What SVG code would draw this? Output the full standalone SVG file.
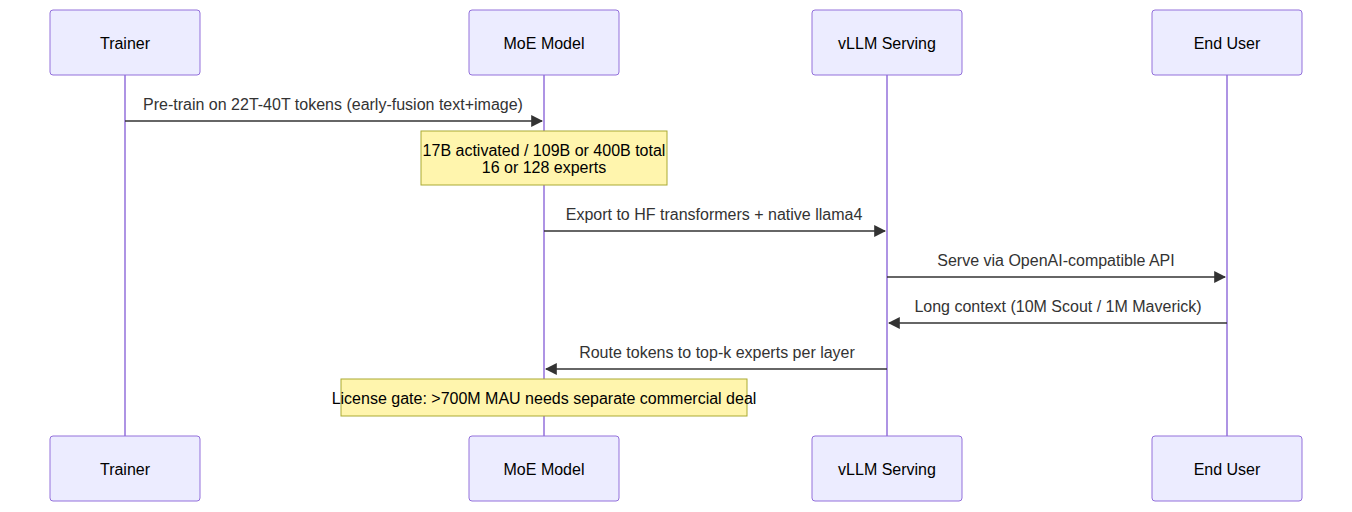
<svg xmlns="http://www.w3.org/2000/svg" width="1352" height="512" viewBox="0 0 1352 512">
<style>
.actor{fill:#ECECFF;stroke:#9370DB;stroke-width:1}
.life{stroke:#9370DB;stroke-width:1.5}
.at{font-family:"Liberation Sans",Arial,sans-serif;font-size:16px;fill:#000;text-anchor:middle;dominant-baseline:central}
.msg{stroke:#333;stroke-width:1.5;fill:none}
.mt{font-family:"Liberation Sans",Arial,sans-serif;font-size:16px;fill:#333;text-anchor:middle}
.note{fill:#fff5ad;stroke:#aaaa33;stroke-width:1}
.nt{font-family:"Liberation Sans",Arial,sans-serif;font-size:16px;fill:#000;text-anchor:middle}
</style>
<defs><marker id="ah" viewBox="0 0 10 10" refX="9" refY="5" markerWidth="8" markerHeight="8" orient="auto-start-reverse"><path d="M0,0 L10,5 L0,10 z" fill="#333"/></marker></defs>
<g id="lifelines">
<line class="life" x1="125" y1="75" x2="125" y2="436"/>
<line class="life" x1="544" y1="75" x2="544" y2="436"/>
<line class="life" x1="887" y1="75" x2="887" y2="436"/>
<line class="life" x1="1227" y1="75" x2="1227" y2="436"/>
</g>
<g id="trainer"><rect class="actor" x="50" y="10" width="150" height="65" rx="3"/><text class="at" x="125" y="43">Trainer</text><rect class="actor" x="50" y="436" width="150" height="65" rx="3"/><text class="at" x="125" y="469">Trainer</text></g>
<g id="moe"><rect class="actor" x="469" y="10" width="150" height="65" rx="3"/><text class="at" x="544" y="43">MoE Model</text><rect class="actor" x="469" y="436" width="150" height="65" rx="3"/><text class="at" x="544" y="469">MoE Model</text></g>
<g id="vllm"><rect class="actor" x="812" y="10" width="150" height="65" rx="3"/><text class="at" x="887" y="43">vLLM Serving</text><rect class="actor" x="812" y="436" width="150" height="65" rx="3"/><text class="at" x="887" y="469">vLLM Serving</text></g>
<g id="user"><rect class="actor" x="1152" y="10" width="150" height="65" rx="3"/><text class="at" x="1227" y="43">End User</text><rect class="actor" x="1152" y="436" width="150" height="65" rx="3"/><text class="at" x="1227" y="469">End User</text></g>
<g id="connectors">
<line class="msg" x1="125" y1="121" x2="542" y2="121" marker-end="url(#ah)"/>
<text class="mt" x="333" y="110">Pre-train on 22T-40T tokens (early-fusion text+image)</text>
<line class="msg" x1="544" y1="231" x2="885" y2="231" marker-end="url(#ah)"/>
<text class="mt" x="714" y="220">Export to HF transformers + native llama4</text>
<line class="msg" x1="887" y1="277" x2="1225" y2="277" marker-end="url(#ah)"/>
<text class="mt" x="1056" y="266">Serve via OpenAI-compatible API</text>
<line class="msg" x1="1227" y1="323" x2="889" y2="323" marker-end="url(#ah)"/>
<text class="mt" x="1058" y="312">Long context (10M Scout / 1M Maverick)</text>
<line class="msg" x1="887" y1="369" x2="546" y2="369" marker-end="url(#ah)"/>
<text class="mt" x="717" y="358">Route tokens to top-k experts per layer</text>
</g>
<g id="note1"><rect class="note" x="421" y="131" width="246" height="54"/><text class="nt" x="544" y="156">17B activated / 109B or 400B total</text><text class="nt" x="544" y="173">16 or 128 experts</text></g>
<g id="note2"><rect class="note" x="341" y="379" width="406" height="37"/><text class="nt" x="544" y="404">License gate: &gt;700M MAU needs separate commercial deal</text></g>
</svg>
